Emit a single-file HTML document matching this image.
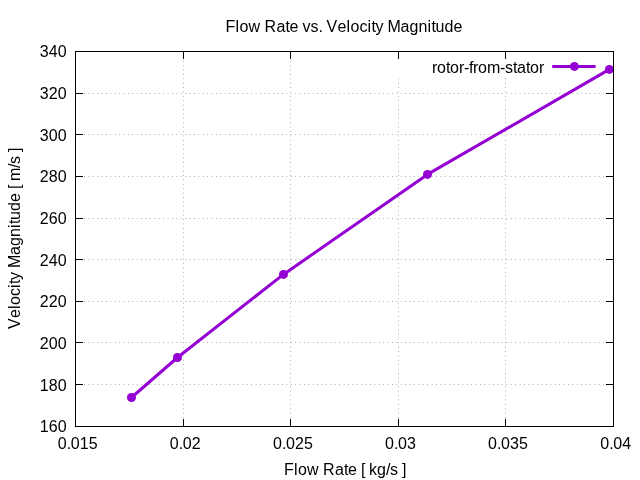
<!DOCTYPE html>
<html><head><meta charset="utf-8"><style>
html,body{margin:0;padding:0;background:#fff;width:640px;height:480px;overflow:hidden}
svg{display:block;will-change:transform}
text{font-family:"Liberation Sans",sans-serif;font-size:16px;fill:#000}
</style></head><body>
<svg width="640" height="480" viewBox="0 0 640 480">
<rect width="640" height="480" fill="#fff"/>
<line x1="75.5" y1="93.5" x2="613.5" y2="93.5" stroke="#b0b0b0" stroke-width="1" stroke-dasharray="1 3.4" stroke-dashoffset="0.3"/>
<line x1="75.5" y1="134.5" x2="613.5" y2="134.5" stroke="#b0b0b0" stroke-width="1" stroke-dasharray="1 3.4" stroke-dashoffset="0.3"/>
<line x1="75.5" y1="176.5" x2="613.5" y2="176.5" stroke="#b0b0b0" stroke-width="1" stroke-dasharray="1 3.4" stroke-dashoffset="0.3"/>
<line x1="75.5" y1="218.5" x2="613.5" y2="218.5" stroke="#b0b0b0" stroke-width="1" stroke-dasharray="1 3.4" stroke-dashoffset="0.3"/>
<line x1="75.5" y1="259.5" x2="613.5" y2="259.5" stroke="#b0b0b0" stroke-width="1" stroke-dasharray="1 3.4" stroke-dashoffset="0.3"/>
<line x1="75.5" y1="301.5" x2="613.5" y2="301.5" stroke="#b0b0b0" stroke-width="1" stroke-dasharray="1 3.4" stroke-dashoffset="0.3"/>
<line x1="75.5" y1="342.5" x2="613.5" y2="342.5" stroke="#b0b0b0" stroke-width="1" stroke-dasharray="1 3.4" stroke-dashoffset="0.3"/>
<line x1="75.5" y1="384.5" x2="613.5" y2="384.5" stroke="#b0b0b0" stroke-width="1" stroke-dasharray="1 3.4" stroke-dashoffset="0.3"/>
<line x1="183.5" y1="426.5" x2="183.5" y2="51.5" stroke="#b0b0b0" stroke-width="1" stroke-dasharray="1 3.4" stroke-dashoffset="0.3"/>
<line x1="290.5" y1="426.5" x2="290.5" y2="51.5" stroke="#b0b0b0" stroke-width="1" stroke-dasharray="1 3.4" stroke-dashoffset="0.3"/>
<line x1="398.5" y1="426.5" x2="398.5" y2="77.0" stroke="#b0b0b0" stroke-width="1" stroke-dasharray="1 3.4" stroke-dashoffset="0.3"/>
<line x1="505.5" y1="426.5" x2="505.5" y2="77.0" stroke="#b0b0b0" stroke-width="1" stroke-dasharray="1 3.4" stroke-dashoffset="0.3"/>
<line x1="75.5" y1="51.5" x2="83.0" y2="51.5" stroke="#000" stroke-width="1"/>
<line x1="613.5" y1="51.5" x2="606.0" y2="51.5" stroke="#000" stroke-width="1"/>
<text x="39.8 48.8 57.8" y="57">340</text>
<line x1="75.5" y1="93.5" x2="83.0" y2="93.5" stroke="#000" stroke-width="1"/>
<line x1="613.5" y1="93.5" x2="606.0" y2="93.5" stroke="#000" stroke-width="1"/>
<text x="39.8 48.8 57.8" y="99">320</text>
<line x1="75.5" y1="134.5" x2="83.0" y2="134.5" stroke="#000" stroke-width="1"/>
<line x1="613.5" y1="134.5" x2="606.0" y2="134.5" stroke="#000" stroke-width="1"/>
<text x="39.8 48.8 57.8" y="141">300</text>
<line x1="75.5" y1="176.5" x2="83.0" y2="176.5" stroke="#000" stroke-width="1"/>
<line x1="613.5" y1="176.5" x2="606.0" y2="176.5" stroke="#000" stroke-width="1"/>
<text x="39.8 48.8 57.8" y="182">280</text>
<line x1="75.5" y1="218.5" x2="83.0" y2="218.5" stroke="#000" stroke-width="1"/>
<line x1="613.5" y1="218.5" x2="606.0" y2="218.5" stroke="#000" stroke-width="1"/>
<text x="39.8 48.8 57.8" y="224">260</text>
<line x1="75.5" y1="259.5" x2="83.0" y2="259.5" stroke="#000" stroke-width="1"/>
<line x1="613.5" y1="259.5" x2="606.0" y2="259.5" stroke="#000" stroke-width="1"/>
<text x="39.8 48.8 57.8" y="266">240</text>
<line x1="75.5" y1="301.5" x2="83.0" y2="301.5" stroke="#000" stroke-width="1"/>
<line x1="613.5" y1="301.5" x2="606.0" y2="301.5" stroke="#000" stroke-width="1"/>
<text x="39.8 48.8 57.8" y="307">220</text>
<line x1="75.5" y1="342.5" x2="83.0" y2="342.5" stroke="#000" stroke-width="1"/>
<line x1="613.5" y1="342.5" x2="606.0" y2="342.5" stroke="#000" stroke-width="1"/>
<text x="39.8 48.8 57.8" y="349">200</text>
<line x1="75.5" y1="384.5" x2="83.0" y2="384.5" stroke="#000" stroke-width="1"/>
<line x1="613.5" y1="384.5" x2="606.0" y2="384.5" stroke="#000" stroke-width="1"/>
<text x="39.8 48.8 57.8" y="391">180</text>
<line x1="75.5" y1="426.5" x2="83.0" y2="426.5" stroke="#000" stroke-width="1"/>
<line x1="613.5" y1="426.5" x2="606.0" y2="426.5" stroke="#000" stroke-width="1"/>
<text x="39.8 48.8 57.8" y="432">160</text>
<line x1="75.5" y1="426.5" x2="75.5" y2="419.0" stroke="#000" stroke-width="1"/>
<line x1="75.5" y1="51.5" x2="75.5" y2="59.0" stroke="#000" stroke-width="1"/>
<text x="57.7 66.7 70.7 79.7 88.7" y="449">0.015</text>
<line x1="183.5" y1="426.5" x2="183.5" y2="419.0" stroke="#000" stroke-width="1"/>
<line x1="183.5" y1="51.5" x2="183.5" y2="59.0" stroke="#000" stroke-width="1"/>
<text x="169.8 178.8 182.8 191.8" y="449">0.02</text>
<line x1="290.5" y1="426.5" x2="290.5" y2="419.0" stroke="#000" stroke-width="1"/>
<line x1="290.5" y1="51.5" x2="290.5" y2="59.0" stroke="#000" stroke-width="1"/>
<text x="272.9 281.9 285.9 294.9 303.9" y="449">0.025</text>
<line x1="398.5" y1="426.5" x2="398.5" y2="419.0" stroke="#000" stroke-width="1"/>
<line x1="398.5" y1="51.5" x2="398.5" y2="59.0" stroke="#000" stroke-width="1"/>
<text x="385.0 394.0 398.0 407.0" y="449">0.03</text>
<line x1="505.5" y1="426.5" x2="505.5" y2="419.0" stroke="#000" stroke-width="1"/>
<line x1="505.5" y1="51.5" x2="505.5" y2="59.0" stroke="#000" stroke-width="1"/>
<text x="488.1 497.1 501.1 510.1 519.1" y="449">0.035</text>
<line x1="613.5" y1="426.5" x2="613.5" y2="419.0" stroke="#000" stroke-width="1"/>
<line x1="613.5" y1="51.5" x2="613.5" y2="59.0" stroke="#000" stroke-width="1"/>
<text x="600.2 609.2 613.2 622.2" y="449">0.04</text>
<text x="431.9 436.9 445.9 449.9 458.9 463.9 468.9 472.9 477.9 486.9 499.9 504.9 512.9 516.9 525.9 529.9 538.9" y="73">rotor-from-stator</text>
<defs><clipPath id="pc"><rect x="75.5" y="51.5" width="538.0" height="375.0"/></clipPath></defs>
<g clip-path="url(#pc)">
<polyline points="131.5,397.5 177.5,357.5 283.5,274.4 427.5,174.4 609.4,69.4" fill="none" stroke="#9400d3" stroke-width="3" stroke-linejoin="round"/>
<circle cx="131.5" cy="397.5" r="4.5" fill="#9400d3"/>
<circle cx="177.5" cy="357.5" r="4.5" fill="#9400d3"/>
<circle cx="283.5" cy="274.4" r="4.5" fill="#9400d3"/>
<circle cx="427.5" cy="174.4" r="4.5" fill="#9400d3"/>
<circle cx="609.4" cy="69.4" r="4.5" fill="#9400d3"/>
</g>
<line x1="552.2" y1="66.5" x2="595.6" y2="66.5" stroke="#9400d3" stroke-width="3"/>
<circle cx="574.4" cy="66.4" r="4.5" fill="#9400d3"/>
<rect x="75.5" y="51.5" width="538.0" height="375.0" fill="none" stroke="#000" stroke-width="1"/>
<text x="225.6 235.6 239.6 248.6 260.6 264.6 276.6 285.6 289.6 298.6 302.6 310.6 318.6 322.6 326.6 337.6 346.6 350.6 359.6 367.6 371.6 375.6 383.6 387.6 400.6 409.6 418.6 427.6 431.6 435.6 444.6 453.6" y="32">Flow Rate vs. Velocity Magnitude</text>
<text x="283.9 293.9 297.9 306.9 318.9 322.9 334.9 343.9 347.9 356.9 360.9 364.9 368.9 376.9 385.9 389.9 397.9 401.9" y="475">Flow Rate [ kg/s ]</text>
<text transform="translate(20,328.9) rotate(-90)" x="0.0 11.0 20.0 24.0 33.0 41.0 45.0 49.0 57.0 61.0 74.0 83.0 92.0 101.0 105.0 109.0 118.0 127.0 136.0 140.0 144.0 148.0 161.0 165.0 173.0 177.0" y="0">Velocity Magnitude [ m/s ]</text>
</svg>
</body></html>
